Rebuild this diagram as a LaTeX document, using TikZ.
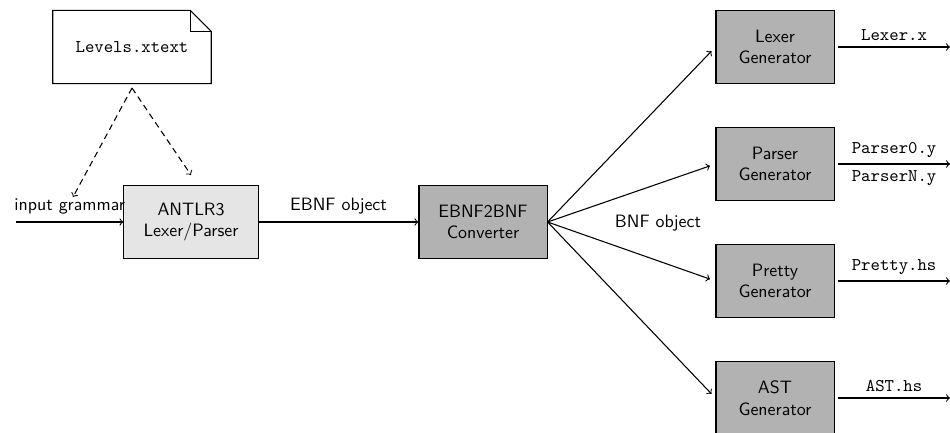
\documentclass[tikz,border=0pt]{standalone}
\usetikzlibrary{positioning}
\renewcommand{\familydefault}{\sfdefault}
\begin{document}
\begin{tikzpicture}[x=0.559pt,y=-0.559pt, line width=0.6pt,
  every node/.style={font=\sffamily},
  procbox/.style={draw, fill=gray!60, minimum width=66pt, minimum height=40.8pt, align=center, inner sep=2pt},
  notebox/.style={minimum width=88pt, minimum height=40.3pt, inner sep=0pt, font=\ttfamily},
  flow/.style={->},
  fan/.style={->, shorten >=3.2pt},
  dep/.style={->, dash pattern=on 3.4pt off 2.4pt},
  lbl/.style={font=\sffamily},
  fname/.style={font=\ttfamily}]
\useasboundingbox (0,0) rectangle (950,432);

% grammar source file (note with folded corner)
\node[notebox] (xtext) at (132,47) {Levels.xtext};
\draw ([xshift=-11.7pt]xtext.north east) -- (xtext.north west) -- (xtext.south west)
  -- (xtext.south east) -- ([yshift=-11.7pt]xtext.north east) -- cycle;
\draw ([xshift=-11.7pt]xtext.north east) |- ([yshift=-11.7pt]xtext.north east);

% main pipeline
\node[procbox, fill=gray!20, minimum width=75pt] (antlr) at (191,222) {ANTLR3\\Lexer/Parser};
\node[procbox, minimum width=71.6pt] (conv) at (483,222) {EBNF2BNF\\Converter};

% generators
\node[procbox] (lexgen) at (775,47)  {Lexer\\Generator};
\node[procbox] (pargen) at (775,164) {Parser\\Generator};
\node[procbox] (prtgen) at (775,281) {Pretty\\Generator};
\node[procbox] (astgen) at (775,398) {AST\\Generator};

% free ends
\coordinate (in)     at (16,222);
\coordinate (depsrc) at (132,88);
\coordinate (depin)  at (73,197);
\coordinate (depant) at (191,175);
\coordinate (lexout) at (950,47);
\coordinate (parout) at (950,164);
\coordinate (prtout) at (950,281);
\coordinate (astout) at (950,398);

% input and intermediate flow
\draw[flow] (in) -- node[lbl, above=0.5pt] {input grammar} (antlr.west);
\draw[flow] (antlr.east) -- node[lbl, above=1pt] {EBNF object} (conv.west);

% dependency of the parser on the grammar file
\draw[dep] (depsrc) -- (depin);
\draw[dep] (depsrc) -- (depant);

% BNF object fan-out
\draw[fan] (conv.east) -- (lexgen.west);
\draw[fan] (conv.east) -- (pargen.west);
\draw[fan] (conv.east) -- (prtgen.west);
\draw[fan] (conv.east) -- (astgen.west);
\node[lbl] (bnf) at (658,223) {BNF object};

% generated files
\draw[flow] ([xshift=2pt]lexgen.east) -- node[fname, above=0pt] {Lexer.x} (lexout);
\draw[flow] ([xshift=2pt]pargen.east) -- node[fname, above=0pt] {Parser0.y}
  node[fname, below=0pt] {ParserN.y} (parout);
\draw[flow] ([xshift=2pt]prtgen.east) -- node[fname, above=0pt] {Pretty.hs} (prtout);
\draw[flow] ([xshift=2pt]astgen.east) -- node[fname, above=0pt] {AST.hs} (astout);
\end{tikzpicture}
\end{document}
